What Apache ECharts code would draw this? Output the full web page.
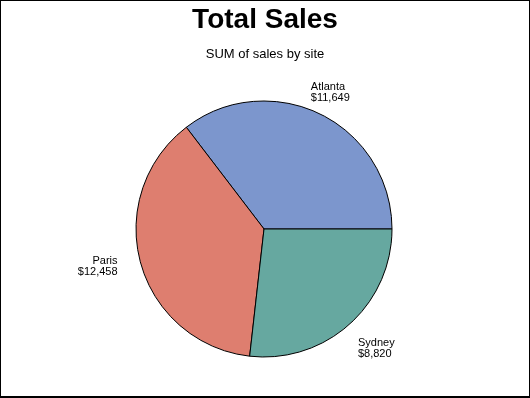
<!DOCTYPE html>
<html>
<head>
<meta charset="utf-8">
<script src="https://cdn.jsdelivr.net/npm/echarts@6/dist/echarts.min.js"></script>
<style>
html, body { margin: 0; padding: 0; background: #fff; }
#wrap { position: relative; width: 530px; height: 398px; }
#chart { position: absolute; left: 0; top: 0; width: 530px; height: 398px; }
#frame { position: absolute; left: 0; top: 0; width: 530px; height: 398px; box-sizing: border-box; border: 1px solid #000; border-bottom-width: 2px; pointer-events: none; z-index: 5; }
</style>
</head>
<body>
<div id="wrap"><div id="chart"></div><div id="frame"></div></div>
<script>
const titleText = 'Total Sales';
const subtitleText = 'SUM of sales by site';
const sites = ['Atlanta', 'Paris', 'Sydney'];
const sales = [11649, 12458, 8820];
const siteColors = ['#7C96CD', '#DE7E6F', '#66A8A0'];
// label nudges (align, dx, dy) relative to the default outside label anchor
const labelAlign = ['left', 'right', 'left'];
const labelDx = [-26, 6, -13];
const labelDy = [1, -3, 5];

const chart = echarts.init(document.getElementById('chart'), null, { renderer: 'canvas' });
const font = '"Liberation Sans", Arial, sans-serif';

chart.setOption({
  animation: false,
  title: [
    { text: titleText, left: 'center', top: 1, textStyle: { fontFamily: font, fontSize: 28, fontWeight: 'bold', color: '#000' } },
    { text: subtitleText, left: 'center', top: 43, textStyle: { fontFamily: font, fontSize: 13, fontWeight: 'normal', color: '#000' } }
  ],
  series: [{
    type: 'pie',
    center: [264, 229],
    radius: 128,
    startAngle: 0,
    clockwise: false,
    avoidLabelOverlap: false,
    silent: true,
    itemStyle: { borderColor: '#000', borderWidth: 1 },
    label: {
      show: true,
      position: 'outside',
      fontFamily: font,
      fontSize: 11,
      lineHeight: 11,
      color: '#000',
      formatter: p => p.name + '\n$' + p.value.toLocaleString('en-US')
    },
    labelLine: { show: false, length: 25, length2: 0 },
    labelLayout: p => ({ align: labelAlign[p.dataIndex], dx: labelDx[p.dataIndex], dy: labelDy[p.dataIndex] }),
    data: sites.map((s, i) => ({ name: s, value: sales[i], itemStyle: { color: siteColors[i] } }))
  }]
});
</script>
</body>
</html>
